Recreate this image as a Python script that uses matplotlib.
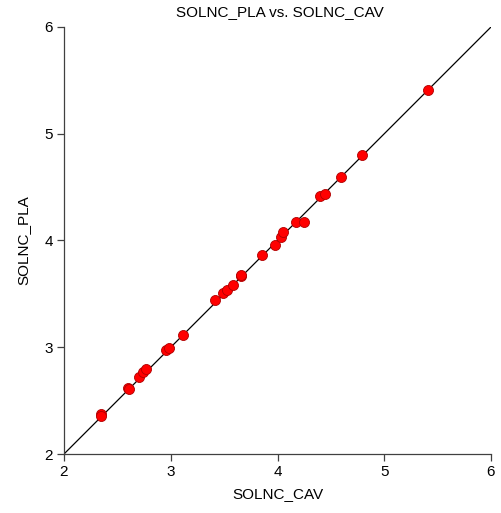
import matplotlib
matplotlib.use("Agg")
import matplotlib.pyplot as plt

cav = [2.347, 2.351, 2.600, 2.606, 2.705, 2.743, 2.768, 2.955, 2.986, 3.118,
       3.417, 3.492, 3.524, 3.580, 3.655, 3.661, 3.858, 3.974, 4.030, 4.054,
       4.171, 4.251, 4.401, 4.442, 4.592, 4.792, 5.410]
pla = [2.372, 2.356, 2.621, 2.606, 2.724, 2.768, 2.793, 2.974, 2.993, 3.115,
       3.443, 3.511, 3.533, 3.583, 3.667, 3.680, 3.861, 3.961, 4.033, 4.077,
       4.173, 4.173, 4.414, 4.433, 4.595, 4.804, 5.410]
ticks = [2, 3, 4, 5, 6]

plt.rcParams['font.family'] = ['Liberation Sans', 'DejaVu Sans']
fig = plt.figure(figsize=(5.01, 5.13), dpi=100)
ax = fig.add_axes([64/501, 59/513, 427/501, 427/513])
ax.plot([2, 6], [2, 6], color='black', lw=0.9, zorder=1)
ax.scatter(cav, pla, s=52, c='#ff0000', edgecolors='#b00000', linewidths=0.6, zorder=2)
ax.set_xlim(2, 6)
ax.set_ylim(2, 6)
ax.set_xticks(ticks)
ax.set_yticks(ticks)
for s in ['top', 'right']:
    ax.spines[s].set_visible(False)
for s in ['left', 'bottom']:
    ax.spines[s].set_color('#404040')
    ax.spines[s].set_linewidth(0.9)
ax.tick_params(direction='out', length=5, width=0.9, color='#404040', labelsize=11, pad=3)
ax.set_xlabel('SOLNC_CAV', fontsize=11, labelpad=6)
ax.set_ylabel('SOLNC_PLA', fontsize=11, labelpad=10)
fig.text(0.5 * (64 + 491) / 501 + 0.005, 1 - 12/513, 'SOLNC_PLA vs. SOLNC_CAV', ha='center', va='center', fontsize=11)
fig.savefig('out.png', dpi=100)
